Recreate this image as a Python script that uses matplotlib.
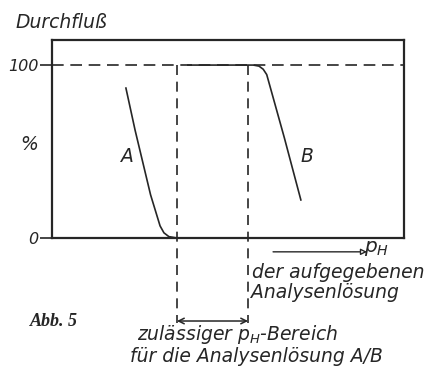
import matplotlib.pyplot as plt

# curve A (drops to 0) and curve B (drops from 100), x in arbitrary pH units 0..10
a_x = [2.10, 2.36, 2.80, 3.07, 3.18, 3.32, 3.55, 6.05]
a_y = [86.7, 62.4, 25.0, 7.0, 3.0, 0.8, 0.0, 0.0]
b_x = [3.86, 5.72, 5.88, 6.00, 6.10, 6.60, 7.07]
b_y = [100.0, 100.0, 99.4, 97.6, 94.5, 58.0, 22.0]
range_lo, range_hi = 3.55, 5.57
y_ticks = [0, 100]
y_labels = ['0', '100']

plt.rcParams['mathtext.default'] = 'it'
ink = '#262626'
fs = 13.5

fig = plt.figure(figsize=(4.25, 3.69), dpi=100)
ax = fig.add_axes([52 / 425, 131 / 369, 352 / 425, 198 / 369])
ax.set_xlim(0, 10)
ax.set_ylim(0, 114.5)
for s in ax.spines.values():
    s.set_linewidth(1.6)
    s.set_color(ink)
ax.set_xticks([])
ax.set_yticks(y_ticks)
ax.set_yticklabels(y_labels, fontsize=11.5, style='italic', color=ink)
ax.tick_params(axis='y', length=8.5, width=1.2, color=ink, pad=1)

# 100 % reference line
ax.axhline(100, color=ink, lw=1.2, ls=(0, (7, 4)))

# limits of permitted range
for xv in (range_lo, range_hi):
    ax.plot([xv, xv], [100, -49], color=ink, lw=1.2, ls=(0, (6, 4)), clip_on=False)

ax.plot(a_x, a_y, color=ink, lw=1.2)
ax.plot(b_x, b_y, color=ink, lw=1.2)

ax.text(1.95, 44, 'A', fontsize=fs, style='italic', color=ink)
ax.text(7.05, 44, 'B', fontsize=fs, style='italic', color=ink)

# double arrow for permitted range
ax.annotate('', xy=(range_lo, -48), xytext=(range_hi, -48),
            arrowprops=dict(arrowstyle='<->', color=ink, lw=1.1, shrinkA=0, shrinkB=0),
            annotation_clip=False)

# pH axis arrow
ax.annotate('', xy=(8.95, -8), xytext=(6.28, -8),
            arrowprops=dict(arrowstyle='-|>', color=ink, lw=1.0, shrinkA=0, shrinkB=0,
                            mutation_scale=9, fc='white'),
            annotation_clip=False)

fig.text(15 / 425, 1 - 22 / 369, 'Durchfluß', fontsize=fs, style='italic', color=ink, va='center')
fig.text(20 / 425, 1 - 145 / 369, '%', fontsize=fs, style='italic', color=ink, va='center')
fig.text(364 / 425, 1 - 249 / 369, r'$p_H$', fontsize=fs + 1, color=ink, va='center')
fig.text(252 / 425, 1 - 272 / 369, 'der aufgegebenen', fontsize=fs, style='italic', color=ink, va='center')
fig.text(251 / 425, 1 - 292 / 369, 'Analysenlösung', fontsize=fs, style='italic', color=ink, va='center')
fig.text(30 / 425, 1 - 322 / 369, 'Abb. 5', fontsize=13, family='Liberation Serif', style='italic',
         weight='bold', color=ink, va='center')
fig.text(238 / 425, 1 - 334 / 369, r'zulässiger $p_H$-Bereich', fontsize=fs, style='italic', color=ink,
         va='center', ha='center')
fig.text(256 / 425, 1 - 356 / 369, 'für die Analysenlösung A/B', fontsize=fs, style='italic', color=ink,
         va='center', ha='center')

fig.savefig('out.png', dpi=100)
